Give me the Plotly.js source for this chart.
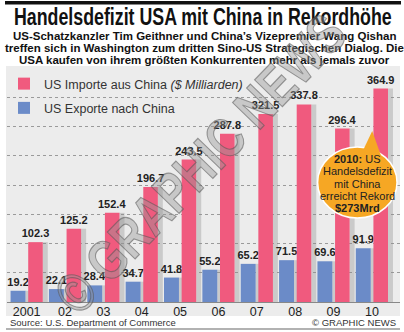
<!DOCTYPE html>
<html><head><meta charset="utf-8">
<script src="https://cdn.plot.ly/plotly-3.0.1.min.js"></script>
<style>html,body{margin:0;padding:0;background:#fff}#wrap{position:relative;width:404px;height:332px;overflow:hidden}#c{width:404px;height:332px}
#title{position:absolute;left:0;top:6px;white-space:nowrap;font:bold 23px "Liberation Sans",Arial,sans-serif;line-height:23px;color:#111;transform-origin:0 0}
#wm{position:absolute;left:0;top:0;display:inline-block;white-space:nowrap;font:bold 56px "Liberation Sans",Arial,sans-serif;line-height:56px;color:rgba(150,150,150,0.42);-webkit-text-stroke:1.2px rgba(85,85,85,0.55);transform-origin:50% 50%}</style>
</head><body><div id="wrap"><div id="c"></div><div id="title">Handelsdefizit USA mit China in Rekordhöhe</div><div id="wm">© GRAPHIC NEWS</div></div>
<script>
const years = ["2001","02","03","04","05","06","07","08","09","10"];
const imports = [102.3,125.2,152.4,196.7,243.5,287.8,321.5,337.8,296.4,364.9];
const exports_ = [19.2,22.1,28.4,34.7,41.8,55.2,65.2,71.5,69.6,91.9];
const importName = "US Importe aus China <i>($ Milliarden)</i>";
const exportName = "US Exporte nach China";

const W=404,H=332, L=4, R=4, T=68, B=30;
const PW=W-L-R, PH=H-T-B;
const px=x=>(x-L)/PW, py=y=>(H-B-y)/PH;
const catW=38.65;
const x0=-0.5-(4.5-L)/catW, x1=x0+PW/catW;
const idx=years.map((_,i)=>i);
const PINK="#f05a7e", BLUE="#6b8bc8";
const FONT="Liberation Sans, Arial, sans-serif";

const shadow=(vals,off)=>({type:'bar',x:idx,y:vals,offset:off,width:0.13,marker:{color:'rgba(140,140,140,0.35)',line:{width:0}},showlegend:false,hoverinfo:'skip'});
const traces=[
 shadow(exports_,-0.03), shadow(imports,0.42),
 {type:'bar',name:exportName,legendgroup:'e',x:idx,y:exports_,offset:-0.42,width:0.39,marker:{color:BLUE,line:{width:0}},
  text:exports_.map(v=>v.toFixed(1)),textposition:'outside',constraintext:'none',cliponaxis:false,
  textfont:{family:FONT,size:11,color:'#222',weight:'bold'},legendrank:2},
 {type:'bar',name:importName,legendgroup:'i',x:idx,y:imports,offset:0.04,width:0.38,marker:{color:PINK,line:{width:0}},
  text:imports.map(v=>v.toFixed(1)),textposition:'outside',constraintext:'none',cliponaxis:false,
  textfont:{family:FONT,size:11,color:'#222',weight:'bold'},legendrank:1}
];

const ann=[];
const A=(x,y,text,o)=>ann.push(Object.assign({xref:'paper',yref:'paper',x:px(x),y:py(y),text,showarrow:false,xanchor:'center',yanchor:'middle'},o));
const sub=["US-Schatzkanzler Tim Geithner und China’s Vizepremier Wang Qishan","treffen sich in Washington zum dritten Sino-US Strategischen Dialog. Die","USA kaufen von ihrem größten Konkurrenten mehr als jemals zuvor"];
sub.forEach((s,i)=>A(203,36+12*i,"<b>"+s+"</b>",{font:{family:FONT,size:11.5,color:'#111'}}));
const bub=["<b>2010:</b> US","Handelsdefizit","mit China","erreicht Rekord","<b>$273Mrd</b>"];
bub.forEach((s,i)=>A(357,159+12.3*i,s,{font:{family:FONT,size:11,color:'#222'}}));
A(5,322,"Source: U.S. Department of Commerce",{xanchor:'left',font:{family:FONT,size:9.5,color:'#333'}});
A(398,322,"© GRAPHIC NEWS",{xanchor:'right',font:{family:FONT,size:9.5,color:'#333'}});

const shapes=[
 {type:'rect',xref:'paper',yref:'paper',x0:px(3),x1:px(400),y0:py(316),y1:py(66),fillcolor:'#ececec',line:{width:0},layer:'below'},
 {type:'rect',xref:'paper',yref:'paper',x0:px(2),x1:px(401),y0:py(4.5),y1:py(1),fillcolor:'#111',line:{width:0}},
 {type:'line',xref:'paper',yref:'paper',x0:px(3),x1:px(400),y0:py(329),y1:py(329),line:{color:'#999',width:1.5}},
 {type:'circle',xref:'paper',yref:'paper',x0:px(317),x1:px(397),y0:py(218),y1:py(147),fillcolor:'#f6a724',line:{color:'#fff',width:1.5}},
 {type:'path',xref:'paper',yref:'paper',path:`M${px(362)},${py(152)} L${px(372)},${py(131)} L${px(381)},${py(156)} Z`,fillcolor:'#f6a724',line:{width:0}}
];

const layout={
 width:W,height:H,margin:{l:L,r:R,t:T,b:B},paper_bgcolor:'rgba(0,0,0,0)',plot_bgcolor:'rgba(0,0,0,0)',
 barmode:'overlay',showlegend:true,
 legend:{x:px(1),y:py(69),xanchor:'left',yanchor:'top',bgcolor:'rgba(0,0,0,0)',font:{family:FONT,size:12.5,color:'#333'},tracegroupgap:5,itemwidth:30},
 xaxis:{range:[x0,x1],tickvals:idx,ticktext:years,ticks:'',showgrid:false,zeroline:false,showline:false,
   tickfont:{family:FONT,size:12.5,color:'#222'}},
 xaxis2:{overlaying:'x',anchor:'y',range:[x0,x1],tickvals:idx.map(i=>i+0.5),ticks:'outside',ticklen:5,tickcolor:'#555',tickwidth:1,showticklabels:false,showgrid:false,zeroline:false,showline:false},
 yaxis:{range:[0,400],dtick:50,showticklabels:false,gridcolor:'#9a9a9a',griddash:'dot',gridwidth:1,zeroline:true,zerolinecolor:'#888',zerolinewidth:1},
 annotations:ann,shapes:shapes
};
Plotly.newPlot('c',traces,layout,{displayModeBar:false,staticPlot:true});
const t=document.getElementById('title');
const w=t.offsetWidth, target=378, s=target/w;
t.style.transform=`translateX(${203-target/2}px) scaleX(${s})`;
const wm=document.getElementById('wm');
const r=wm.getBoundingClientRect();
const ww=r.width, wh=r.height, ws=390/ww;
wm.style.left=(200-ww/2)+'px'; wm.style.top=(164-wh/2)+'px';
wm.style.transform=`rotate(-46deg) scaleX(${ws})`;
</script></body></html>
